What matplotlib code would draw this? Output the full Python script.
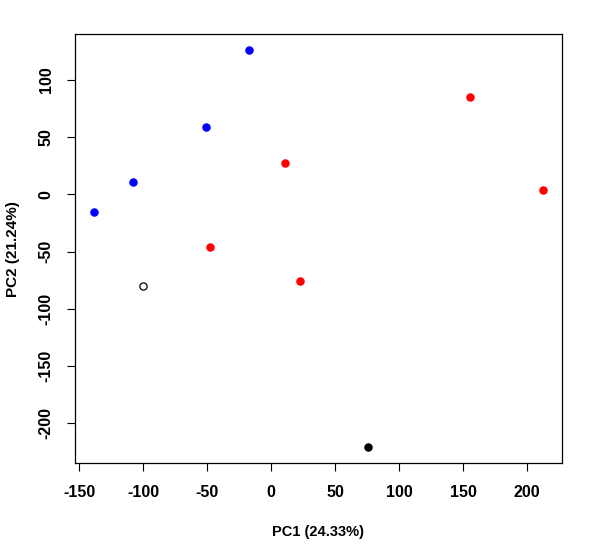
import matplotlib
matplotlib.use("Agg")
import matplotlib.pyplot as plt

# Data
pc1 = [-138.75, -107.8, -50.8, -17.2, 10.9, 155.5, 212.5, 22.7, -47.7, -100.0, 75.3]
pc2 = [-15.7, 10.5, 58.6, 125.9, 27.1, 84.8, 3.5, -76.0, -46.3, -80.4, -221.2]
groups = ["blue", "blue", "blue", "blue", "red", "red", "red", "red", "red", "open", "black"]
xticks = [-150, -100, -50, 0, 50, 100, 150, 200]
yticks = [-200, -150, -100, -50, 0, 50, 100]
xlabel = "PC1 (24.33%)"
ylabel = "PC2 (21.24%)"

styles = {
    "blue": dict(facecolor="#0000ff", edgecolor="#0000ff"),
    "red": dict(facecolor="#ff0000", edgecolor="#ff0000"),
    "open": dict(facecolor="white", edgecolor="black"),
    "black": dict(facecolor="black", edgecolor="black"),
}

plt.rcParams['font.family'] = ['Liberation Sans', 'DejaVu Sans']

fig = plt.figure(figsize=(5.96, 5.57), dpi=100)
ax = fig.add_axes([75.3/596, 1-463/557, (561.7-75.3)/596, (463-34.3)/557])

for g, st in styles.items():
    xs = [x for x, gg in zip(pc1, groups) if gg == g]
    ys = [y for y, gg in zip(pc2, groups) if gg == g]
    ax.scatter(xs, ys, s=27, linewidths=0.9, zorder=3, **st)

ax.set_xlim(-153.1, 226.9)
ax.set_ylim(-234.9, 139.9)
ax.set_xticks(xticks)
ax.set_yticks(yticks)
ax.set_xticklabels([str(t) for t in xticks], fontsize=11.5, fontweight='bold')
ax.set_yticklabels([str(t) for t in yticks], fontsize=11.5, fontweight='bold',
                   rotation=90, va='center')
ax.tick_params(axis='both', direction='out', length=6, width=0.8, color='black')
ax.tick_params(axis='x', pad=10)
ax.tick_params(axis='y', pad=9.5)
for sp in ax.spines.values():
    sp.set_linewidth(0.9)
    sp.set_color('black')

ax.set_xlabel(xlabel, fontsize=10.5, fontweight='bold')
ax.set_ylabel(ylabel, fontsize=11, fontweight='bold')
ax.xaxis.set_label_coords(0.5, -(525-463)/428.7)
ax.yaxis.set_label_coords(-(75.3-20)/486.4, 0.5)

fig.savefig("out.png", dpi=100)
